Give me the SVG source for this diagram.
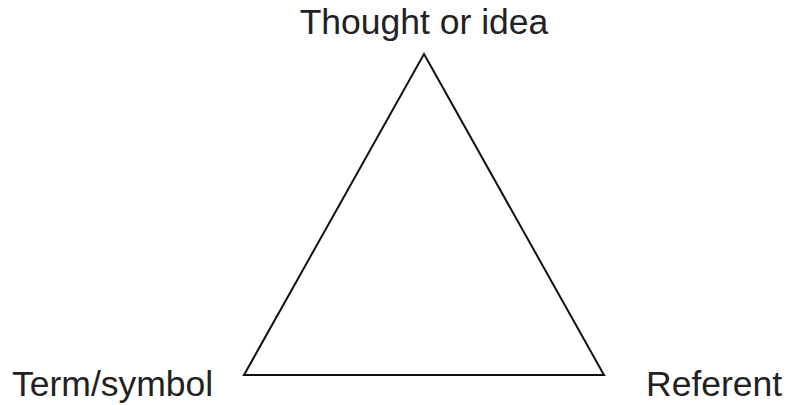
<svg xmlns="http://www.w3.org/2000/svg" width="789" height="405" viewBox="0 0 789 405">
<style>
.lbl{font-family:"Liberation Sans",Arial,sans-serif;font-size:35.5px;fill:#222}
.edge{fill:none;stroke:#111;stroke-width:2;stroke-linejoin:miter}
</style>
<rect width="789" height="405" fill="#fff"/>
<g id="connectors">
<polygon class="edge" points="424,54 604,375 244,375"/>
</g>
<g id="node-thought"><text class="lbl" x="424" y="34" text-anchor="middle">Thought or idea</text></g>
<g id="node-term"><text class="lbl" x="12" y="396">Term/symbol</text></g>
<g id="node-referent"><text class="lbl" x="646" y="396">Referent</text></g>
</svg>
